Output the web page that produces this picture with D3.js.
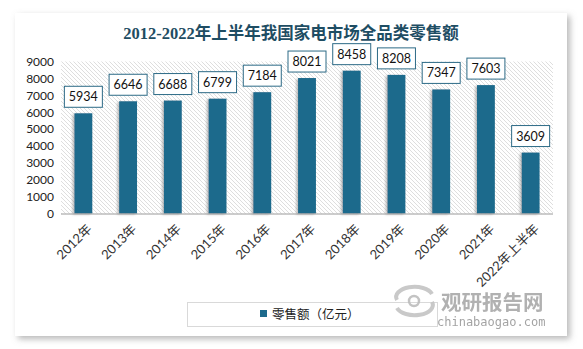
<!DOCTYPE html>
<html><head><meta charset="utf-8">
<script src="https://cdn.jsdelivr.net/npm/d3@7/dist/d3.min.js"></script>
<style>body{margin:0;background:#fff;}svg{display:block;}</style>
</head><body>
<svg id="c" width="583" height="349"></svg>
<script>
const categories = ["2012年","2013年","2014年","2015年","2016年","2017年","2018年","2019年","2020年","2021年","2022年上半年"];
const values = [5934,6646,6688,6799,7184,8021,8458,8208,7347,7603,3609];
const yTicks = [0,1000,2000,3000,4000,5000,6000,7000,8000,9000];
const title = "2012-2022年上半年我国家电市场全品类零售额";
const seriesName = "零售额（亿元）";

const svg = d3.select("#c");
const defs = svg.append("defs");
const fs = defs.append("filter").attr("id","frameShadow").attr("x","-5%").attr("y","-5%").attr("width","110%").attr("height","115%");
fs.append("feDropShadow").attr("dx",3).attr("dy",3).attr("stdDeviation",3).attr("flood-color","#888").attr("flood-opacity",0.6);
const bs = defs.append("filter").attr("id","barShadow").attr("x","-50%").attr("y","-10%").attr("width","200%").attr("height","120%");
bs.append("feDropShadow").attr("dx",-2).attr("dy",1).attr("stdDeviation",1).attr("flood-color","#777").attr("flood-opacity",0.45);
const pat = defs.append("pattern").attr("id","hatch").attr("patternUnits","userSpaceOnUse").attr("width",4).attr("height",4);
pat.append("rect").attr("width",4).attr("height",4).attr("fill","#fff");
pat.append("path").attr("d","M0,0 L4,4 M-1,3 L1,5 M3,-1 L5,1").attr("stroke","#dadada").attr("stroke-width",0.9);

// frame
svg.append("rect").attr("x",15).attr("y",13).attr("width",552).attr("height",323).attr("fill","#fff").attr("filter","url(#frameShadow)");

const x0 = 61, x1 = 553, yTop = 61.5, yBot = 213.5;
const x = d3.scaleBand().domain(categories).range([x0,x1]).paddingInner(0.6).paddingOuter(0.3);
const y = d3.scaleLinear().domain([0,9000]).range([yBot,yTop]);

// title
svg.append("text").attr("x",291).attr("y",39).attr("text-anchor","middle")
  .attr("font-family","'Liberation Serif','Noto Sans CJK SC'").attr("font-weight","bold").attr("font-size",16.5)
  .attr("fill","#1e4d63").text(title);

// plot background
svg.append("rect").attr("x",x0).attr("y",yTop).attr("width",x1-x0).attr("height",yBot-yTop).attr("fill","url(#hatch)");

// y axis labels
const yAxis = d3.axisLeft(y).tickValues(yTicks).tickFormat(d3.format("d")).tickSize(0).tickPadding(0);
const yg = svg.append("g").attr("transform",`translate(${54},0)`).call(yAxis);
yg.select(".domain").remove();
yg.selectAll("text").attr("font-family","Lato, 'Liberation Sans'").attr("font-size",12).attr("fill","#222");

// bars
svg.append("g").selectAll("rect").data(values).join("rect")
  .attr("x",(d,i)=>x(categories[i])).attr("width",x.bandwidth())
  .attr("y",d=>y(d)).attr("height",d=>yBot-y(d))
  .attr("fill","#1d6a8c").attr("filter","url(#barShadow)");

// x axis
const xAxis = d3.axisBottom(x).tickSize(0).tickPadding(0);
const xg = svg.append("g").attr("transform",`translate(0,${yBot})`).call(xAxis);
xg.select(".domain").attr("stroke","#9a9a9a").attr("d",`M${x0},0.5H${x1}`);
xg.selectAll("text").attr("font-family","Lato, 'Liberation Sans','Noto Sans CJK SC'").attr("font-size",13).attr("fill","#333")
  .attr("text-anchor","end").attr("dy","0.35em")
  .attr("transform","translate(6,13) rotate(-45)").attr("y",0).attr("x",0);

// data labels
const lg = svg.append("g");
values.forEach((v,i)=>{
  const cx = x(categories[i]) + x.bandwidth()/2;
  const by = y(v) - 6;
  const g = lg.append("g");
  const t = g.append("text").attr("x",cx).attr("y",by-6).attr("text-anchor","middle")
    .attr("font-family","Lato, 'Liberation Sans'").attr("font-size",12.5).attr("fill","#111").text(v);
  const w = t.node().getComputedTextLength();
  g.insert("rect","text").attr("x",cx-w/2-4.5).attr("y",by-21).attr("width",w+9).attr("height",21)
    .attr("fill","#fff").attr("stroke","#2c6a86").attr("stroke-width",1);
});

// legend
svg.append("rect").attr("x",187.5).attr("y",302.5).attr("width",250).attr("height",24).attr("fill","#fff").attr("stroke","#d9d9d9");
svg.append("rect").attr("x",260).attr("y",310).attr("width",7).attr("height",7).attr("fill","#1d6a8c");
svg.append("text").attr("x",272).attr("y",319).attr("font-family","'Noto Sans CJK SC'").attr("font-size",12.5).attr("fill","#222").text(seriesName);

// watermark
const wm = svg.append("g").attr("opacity",0.9);
wm.append("path").attr("d","M397,300 A18,10 0 0 1 432,294").attr("fill","none").attr("stroke","#c4c4c4").attr("stroke-width",4);
wm.append("path").attr("d","M432,302 A18,10 0 0 1 397,308").attr("fill","none").attr("stroke","#c4c4c4").attr("stroke-width",4);
wm.append("circle").attr("cx",414).attr("cy",301).attr("r",5).attr("fill","none").attr("stroke","#bdbdbd").attr("stroke-width",2.5);
wm.append("text").attr("x",441).attr("y",310).attr("font-family","'Noto Sans CJK SC'").attr("font-weight","bold").attr("font-size",20.5).attr("fill","#a9a9a9").text("观研报告网");
wm.append("text").attr("x",437).attr("y",326).attr("font-family","'DejaVu Sans Mono','Liberation Mono'").attr("font-size",12).attr("fill","#9a9a9a").text("chinabaogao.com");
</script>
</body></html>
